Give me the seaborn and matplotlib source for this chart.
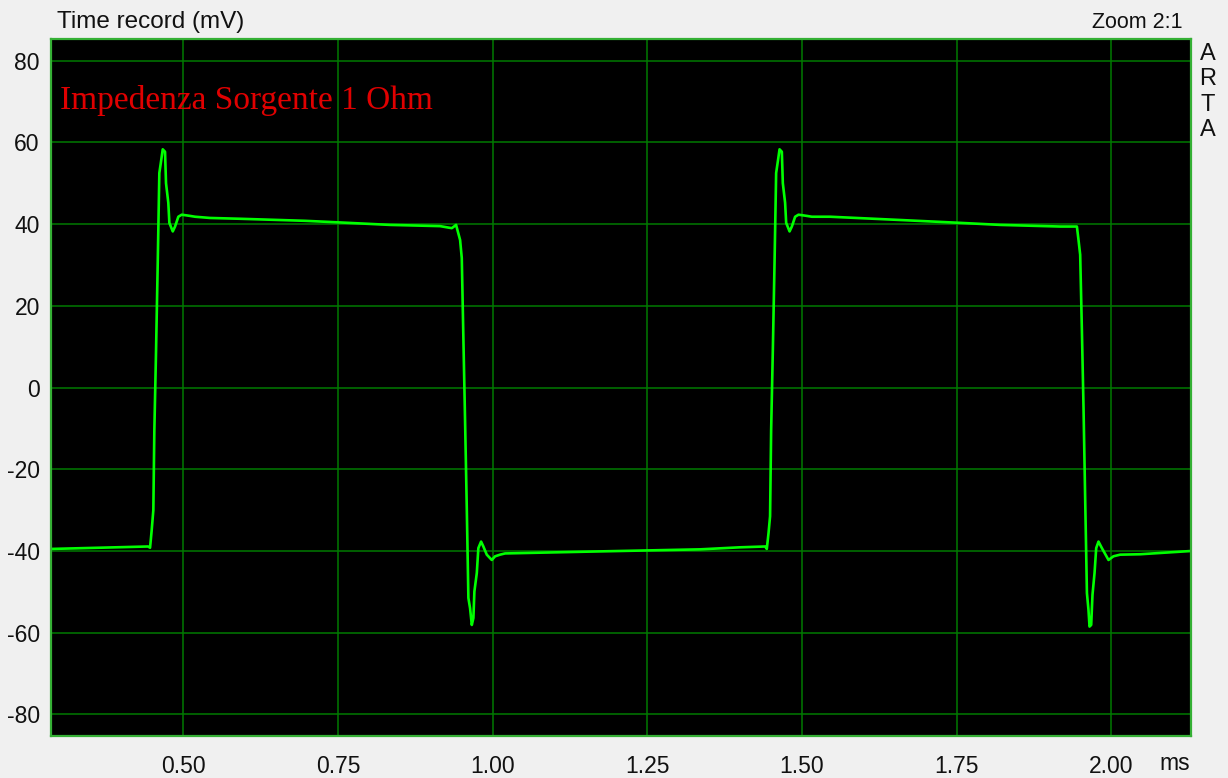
import numpy as np
import pandas as pd
import matplotlib
matplotlib.use("Agg")
import matplotlib.pyplot as plt
import seaborn as sns

# time (ms) and voltage (mV)
time_ms = [
    0.2862, 0.3654, 0.4429, 0.4462, 0.4489, 0.4515, 0.4531, 0.4559, 0.4586,
    0.4612, 0.4639, 0.4667, 0.4704, 0.4720, 0.4757, 0.4774, 0.4829, 0.4866,
    0.4919, 0.4974, 0.5108, 0.5189, 0.5432, 0.5917, 0.6968, 0.7533, 0.8342,
    0.9150, 0.9340, 0.9409, 0.9474, 0.9501, 0.9527, 0.9554, 0.9582, 0.9608,
    0.9635, 0.9663, 0.9689, 0.9705, 0.9744, 0.9769, 0.9813, 0.9850, 0.9905,
    0.9986, 1.0040, 1.0120, 1.0201, 1.1738, 1.3354, 1.4001, 1.4406, 1.4432,
    1.4460, 1.4485, 1.4502, 1.4530, 1.4557, 1.4583, 1.4610, 1.4638, 1.4675,
    1.4691, 1.4728, 1.4745, 1.4800, 1.4837, 1.4890, 1.4945, 1.5079, 1.5160,
    1.5456, 1.6588, 1.7558, 1.8205, 1.9175, 1.9445, 1.9471, 1.9498, 1.9526,
    1.9552, 1.9579, 1.9607, 1.9632, 1.9649, 1.9676, 1.9697, 1.9730, 1.9757,
    1.9794, 1.9849, 1.9956, 2.0036, 2.0144, 2.0468, 2.1295,
]
volt_mv = [
    -39.5, -39.2, -38.9, -39.2, -34.8, -30.0, -10.7, 9.2, 30.5,
    52.5, 55.3, 58.3, 57.7, 50.0, 45.2, 40.3, 38.2, 39.4,
    41.8, 42.3, 42.0, 41.8, 41.5, 41.3, 40.8, 40.4, 39.8,
    39.5, 39.0, 39.8, 36.1, 31.7, 12.1, -7.9, -29.5, -51.5,
    -54.0, -58.1, -56.4, -49.9, -45.4, -39.3, -37.7, -38.9, -40.9,
    -42.2, -41.3, -40.9, -40.6, -40.1, -39.6, -39.1, -38.9, -39.5,
    -35.6, -31.5, -10.5, 9.5, 30.5, 52.5, 55.3, 58.3, 57.7,
    50.0, 45.2, 40.3, 38.2, 39.4, 41.8, 42.3, 42.0, 41.8,
    41.8, 41.0, 40.3, 39.8, 39.4, 39.4, 36.1, 32.5, 13.7,
    -5.0, -27.5, -50.3, -54.4, -58.5, -58.1, -50.7, -45.4, -39.3,
    -37.7, -39.3, -42.2, -41.3, -40.9, -40.8, -40.0,
]
df = pd.DataFrame({"t": time_ms, "v": volt_mv})

x_ticks = [0.50, 0.75, 1.00, 1.25, 1.50, 1.75, 2.00]
y_ticks = [-80, -60, -40, -20, 0, 20, 40, 60, 80]

plt.rcParams["font.family"] = ["Liberation Sans", "DejaVu Sans"]
fig = plt.figure(figsize=(12.28, 7.78), dpi=100, facecolor="#f0f0f0")
ax = fig.add_axes([0.0415, 0.0544, 0.9284, 0.8955])
ax.set_facecolor("black")

sns.lineplot(data=df, x="t", y="v", ax=ax, color="#00ff00", linewidth=1.9,
             sort=False, estimator=None)

ax.set_xlim(0.286, 2.129)
ax.set_ylim(-85.2, 85.3)
ax.set_xticks(x_ticks)
ax.set_xticklabels([f"{t:.2f}" for t in x_ticks])
ax.set_yticks(y_ticks)
ax.set_yticklabels([str(v) for v in y_ticks])
ax.grid(True, color="#007a00", linewidth=1.1)
ax.set_axisbelow(True)
for s in ax.spines.values():
    s.set_color("#35b035")
    s.set_linewidth(1.6)
ax.tick_params(length=0, labelsize=16.5, colors="#111111")
ax.tick_params(axis="x", pad=14)
ax.tick_params(axis="y", pad=8)
ax.set_xlabel("")
ax.set_ylabel("")

fig.text(57 / 1228, 1 - 22 / 778, "Time record (mV)", fontsize=17.5,
         ha="left", va="center", color="#111111")
fig.text(1183 / 1228, 1 - 22 / 778, "Zoom 2:1", fontsize=15.5,
         ha="right", va="center", color="#111111")
fig.text(1208 / 1228, 1 - 43 / 778, "A\nR\nT\nA", fontsize=17,
         ha="center", va="top", linespacing=1.2, color="#111111")
fig.text(1190 / 1228, 1 - 763 / 778, "ms", fontsize=16.5,
         ha="right", va="center", color="#111111")
ax.text(60 / 1228, 1 - 100 / 778, "Impedenza Sorgente 1 Ohm",
        transform=fig.transFigure, fontsize=24, family="Liberation Serif",
        color="#e00000", ha="left", va="center")

fig.savefig("out.png", dpi=100, facecolor=fig.get_facecolor())
